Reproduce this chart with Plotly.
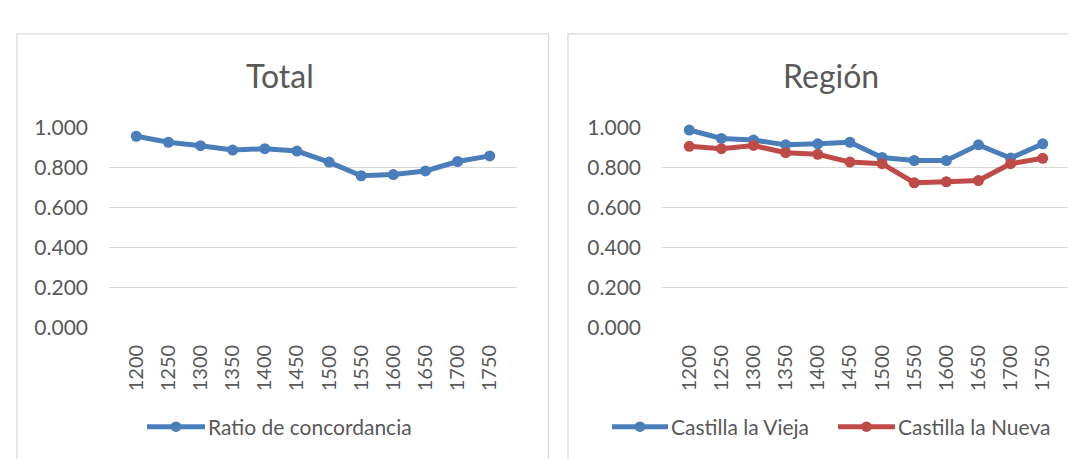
import plotly.graph_objects as go

# ---- data ----
years = ["1200", "1250", "1300", "1350", "1400", "1450", "1500", "1550", "1600", "1650", "1700", "1750"]
total_ratio = [0.956, 0.926, 0.909, 0.887, 0.894, 0.882, 0.827, 0.759, 0.765, 0.783, 0.830, 0.858]
castilla_vieja = [0.987, 0.945, 0.937, 0.913, 0.918, 0.926, 0.850, 0.835, 0.835, 0.913, 0.847, 0.918]
castilla_nueva = [0.906, 0.894, 0.910, 0.874, 0.866, 0.827, 0.819, 0.724, 0.729, 0.735, 0.819, 0.846]
y_ticks = [0.0, 0.2, 0.4, 0.6, 0.8, 1.0]
titles = ["Total", "Región"]
legend_total = ["Ratio de concordancia"]
legend_region = ["Castilla la Vieja", "Castilla la Nueva"]

W, H = 1076, 459
BLUE = "#4A7EBB"
RED = "#BE4B48"
TXT = "#595959"
GRID = "#D9D9D9"
FONT = "Lato"

def px(x):
    return x / W

def py(y):
    return (H - y) / H

fig = go.Figure()

line_w = 5
msize = 11

fig.add_trace(go.Scatter(x=years, y=total_ratio, mode="lines+markers", name=legend_total[0],
                         line=dict(color=BLUE, width=line_w), marker=dict(size=msize, color=BLUE),
                         xaxis="x", yaxis="y", showlegend=False, cliponaxis=False))
fig.add_trace(go.Scatter(x=years, y=castilla_vieja, mode="lines+markers", name=legend_region[0],
                         line=dict(color=BLUE, width=line_w), marker=dict(size=msize, color=BLUE),
                         xaxis="x2", yaxis="y2", showlegend=False, cliponaxis=False))
fig.add_trace(go.Scatter(x=years, y=castilla_nueva, mode="lines+markers", name=legend_region[1],
                         line=dict(color=RED, width=line_w), marker=dict(size=msize, color=RED),
                         xaxis="x2", yaxis="y2", showlegend=False, cliponaxis=False))

ydom = [py(323.5), py(111.5)]
xaxis_common = dict(type="category", tickangle=-90, showgrid=False, zeroline=False,
                    showline=False, ticks="", tickfont=dict(family=FONT, size=20, color=TXT),
                    ticklabelstandoff=12, fixedrange=True)
yaxis_common = dict(range=[0, 1.0], tickvals=y_ticks, tickformat=".3f", showgrid=True,
                    gridcolor=GRID, gridwidth=1, zeroline=False, showline=False, ticks="",
                    tickfont=dict(family=FONT, size=21, color=TXT), ticklabelstandoff=20,
                    fixedrange=True)

fig.update_layout(
    width=W, height=H,
    margin=dict(l=0, r=0, t=0, b=0),
    paper_bgcolor="white", plot_bgcolor="white",
    showlegend=False,
    xaxis=dict(domain=[px(101), px(509)], anchor="y", **xaxis_common),
    yaxis=dict(domain=ydom, anchor="x", **yaxis_common),
    xaxis2=dict(domain=[px(654), px(1062)], anchor="y2", **xaxis_common),
    yaxis2=dict(domain=ydom, anchor="x2", **yaxis_common),
)

shapes = []
# panel borders
shapes.append(dict(type="rect", xref="paper", yref="paper", x0=px(9), x1=px(540.5),
                   y0=-0.05, y1=py(12.5), line=dict(color=GRID, width=1.2), fillcolor="rgba(0,0,0,0)", layer="below"))
shapes.append(dict(type="rect", xref="paper", yref="paper", x0=px(560), x1=1.05,
                   y0=-0.05, y1=py(12.5), line=dict(color=GRID, width=1.2), fillcolor="rgba(0,0,0,0)", layer="below"))

annotations = []
# titles
annotations.append(dict(text=titles[0], x=px(272), y=py(57), xref="paper", yref="paper",
                        showarrow=False, font=dict(family=FONT, size=32, color=TXT), xanchor="center", yanchor="middle"))
annotations.append(dict(text=titles[1], x=px(823), y=py(57), xref="paper", yref="paper",
                        showarrow=False, font=dict(family=FONT, size=32, color=TXT), xanchor="center", yanchor="middle"))

# manual legends
def legend_item(x0, x1, y, color, label):
    shapes.append(dict(type="line", xref="paper", yref="paper", x0=px(x0), x1=px(x1), y0=py(y), y1=py(y),
                       line=dict(color=color, width=line_w)))
    cx = (x0 + x1) / 2
    r = msize / 2
    shapes.append(dict(type="circle", xref="paper", yref="paper", x0=px(cx - r), x1=px(cx + r),
                       y0=py(y + r), y1=py(y - r), line=dict(color=color, width=0), fillcolor=color))
    annotations.append(dict(text=label, x=px(x1 + 1), y=py(y), xref="paper", yref="paper", showarrow=False,
                            xanchor="left", yanchor="middle", font=dict(family=FONT, size=21, color=TXT)))

legend_item(139, 197, 428, BLUE, legend_total[0])
legend_item(604, 660, 428, BLUE, legend_region[0])
legend_item(830, 887, 428, RED, legend_region[1])

fig.update_layout(shapes=shapes, annotations=annotations)

fig.write_html("out.html")
